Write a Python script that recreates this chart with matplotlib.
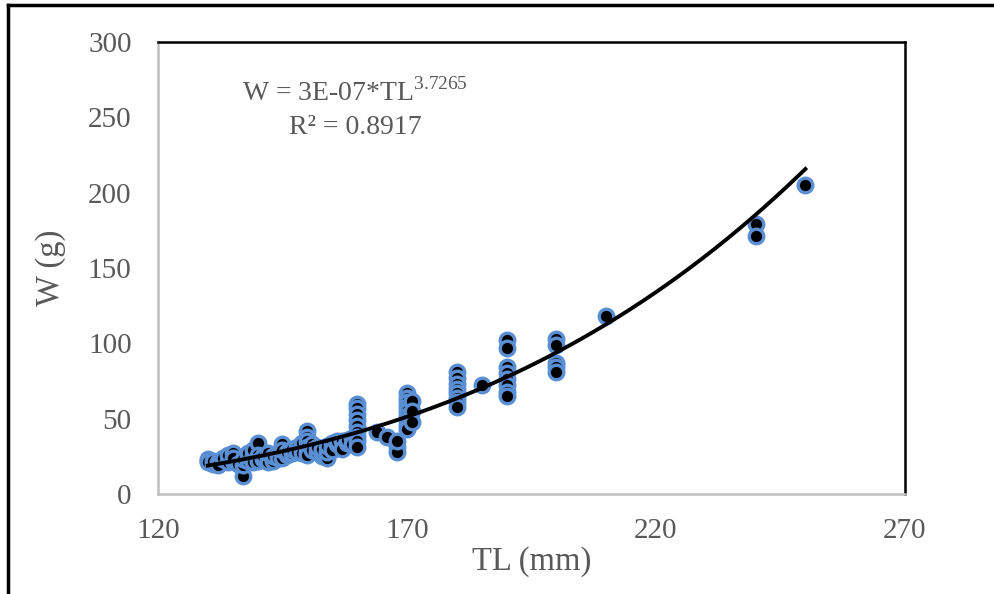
import numpy as np
import matplotlib
matplotlib.use("Agg")
import matplotlib.pyplot as plt
from matplotlib.lines import Line2D

plt.rcParams['font.family'] = ['Liberation Serif', 'DejaVu Serif']
plt.rcParams['mathtext.fontset'] = 'custom'
plt.rcParams['mathtext.rm'] = 'Liberation Serif'

# total length (mm) and weight (g)
tl = [130, 130, 130, 131, 131, 132, 132, 133, 133, 134, 134, 135, 135, 135, 136,
      137, 137, 137, 138, 138, 138, 139, 139, 139, 140, 140, 140, 140, 141, 141,
      142, 142, 142, 143, 143, 144, 144, 145, 145, 145, 145, 146, 146, 147, 147,
      148, 148, 148, 149, 149, 149, 150, 150, 150, 150, 150, 150, 151, 151,
      152, 152, 153, 153, 153, 154, 154, 154, 155, 155, 155, 156, 156, 157, 157,
      158, 158, 159, 159,
      160, 160, 160, 160, 160, 160, 160, 160, 160,
      164, 166, 168, 168, 168,
      170, 170, 170, 170, 170, 170, 170, 170, 170, 171, 171, 171,
      180, 180, 180, 180, 180, 180, 180, 180,
      185,
      190, 190, 190, 190, 190, 190, 190, 190,
      200, 200, 200, 200, 200,
      210, 240, 240, 250]
w = [22, 23, 21, 20, 22, 21, 19, 23, 24, 21, 26, 27, 22, 24, 20,
     12, 19, 23, 22, 25, 27, 25, 29, 21, 34, 24, 26, 22, 23, 25,
     24, 21, 27, 22, 25, 26, 24, 33, 27, 24, 29, 26, 28, 27, 30,
     29, 31, 28, 30, 34, 27, 42, 38, 35, 31, 28, 26, 33, 29,
     28, 31, 25, 27, 30, 24, 28, 32, 31, 34, 29, 33, 35, 35, 30,
     34, 36, 37, 33,
     60, 57, 53, 49, 45, 41, 38, 35, 31,
     41, 38, 31, 28, 35,
     67, 64, 61, 58, 55, 52, 49, 46, 43, 62, 55, 48,
     81, 77, 73, 70, 67, 64, 61, 58,
     72,
     102, 97, 84, 80, 76, 72, 68, 65,
     103, 99, 87, 84, 81,
     118, 179, 171, 205]

# power trendline W = a * TL^b
a_coef = 2.5e-7
b_exp = 3.7265
eq_label = r"W = 3E-07*TL$^{3.7265}$"
r2_label = "R² = 0.8917"

grey = '#595959'

fig = plt.figure(figsize=(9.95, 5.94), dpi=100)
ax = fig.add_axes([0.1588, 0.1684, 0.7507, 0.7609])

ax.plot(tl, w, linestyle='none', marker='o', markersize=10.5,
        markerfacecolor='black', markeredgecolor='#5a8fd4',
        markeredgewidth=2.4, zorder=3)

xs = np.linspace(min(tl), max(tl), 200)
ax.plot(xs, a_coef * xs ** b_exp, color='black', linewidth=2.8, zorder=4)

ax.set_xlim(120, 270)
ax.set_ylim(0, 300)
ax.set_xticks([120, 170, 220, 270])
ax.set_yticks([0, 50, 100, 150, 200, 250, 300])
ax.tick_params(length=0, labelsize=21, colors=grey)
ax.tick_params(axis='y', pad=19)
ax.tick_params(axis='x', pad=17)
ax.set_xlabel('TL (mm)', fontsize=23.5, color=grey, labelpad=2)
ax.set_ylabel('W (g)', fontsize=23.5, color=grey, labelpad=16)

for side in ['left', 'bottom']:
    ax.spines[side].set_color('#bfbfbf')
    ax.spines[side].set_linewidth(1.8)
for side in ['top', 'right']:
    ax.spines[side].set_color('black')
    ax.spines[side].set_linewidth(1.8)

ax.text(0.264, 0.889, eq_label, transform=ax.transAxes, ha='center',
        va='center', fontsize=20, color=grey)
ax.text(0.264, 0.81, r2_label, transform=ax.transAxes, ha='center',
        va='center', fontsize=20, color=grey)

# outer frame (top and left edges visible)
fig.add_artist(Line2D([0.008, 1.0], [0.9915, 0.9915], color='black', linewidth=2.5))
fig.add_artist(Line2D([0.008, 0.008], [0.0, 0.9915], color='black', linewidth=2.5))

fig.savefig('out.png', dpi=100)
